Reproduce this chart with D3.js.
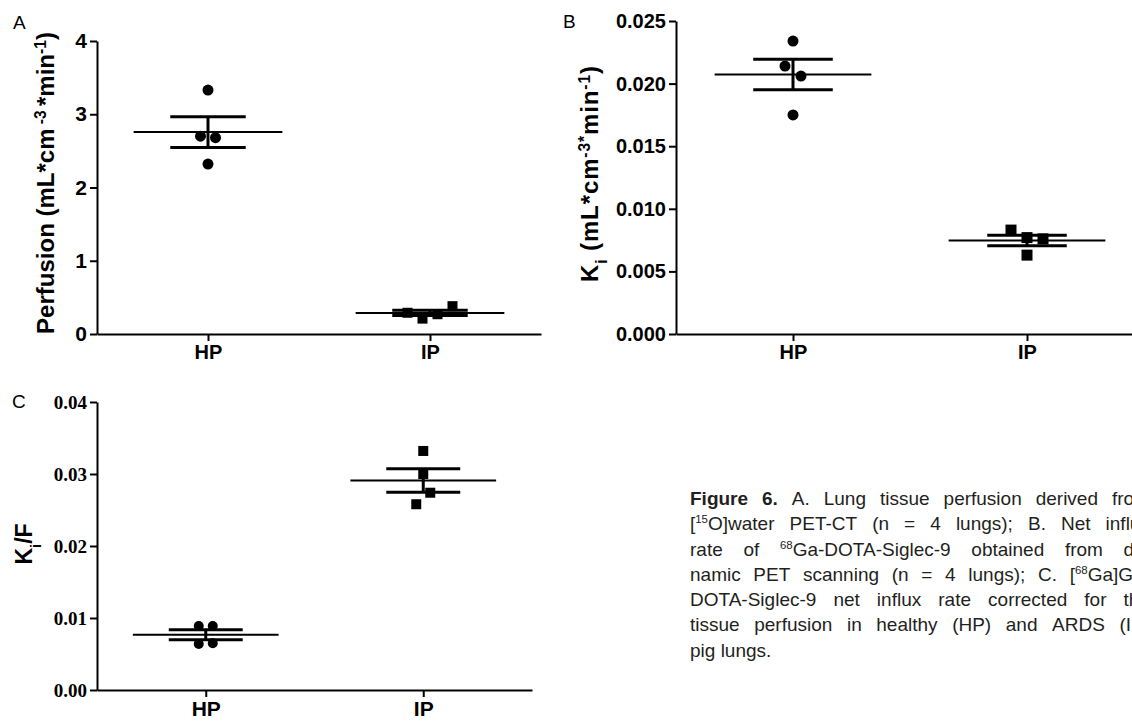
<!DOCTYPE html>
<html>
<head>
<meta charset="utf-8">
<script src="https://cdn.jsdelivr.net/npm/d3@7"></script>
<style>
	body { margin: 0; background: #fff; overflow: hidden; }
	#fig { position: absolute; left: 0; top: 0; }
	#caption {
		position: absolute; left: 690px; top: 486px;
		font-family: "Liberation Sans", Arial, sans-serif; font-size: 19px;
		color: #231f20; line-height: 25.3px;
	}
	.cap-line { display: flex; justify-content: space-between; width: 460px; white-space: nowrap; }
	.cap-line sup, .cap-last sup { font-size: 0.6em; vertical-align: super; line-height: 0; }
	.cap-last { white-space: nowrap; }
</style>
</head>
<body>
<svg id="fig" width="1132" height="722"></svg>
<div id="caption"></div>
<script>
// categories
const groups = ["HP", "IP"];

// A: perfusion (mL*cm-3*min-1)
const perfusionHP = [3.33, 2.70, 2.68, 2.32];
const perfusionIP = [0.29, 0.21, 0.27, 0.38];
const perfusionTicks = [0, 1, 2, 3, 4];

// B: Ki
const kiHP = [0.0234, 0.0214, 0.0206, 0.0175];
const kiIP = [0.0083, 0.0077, 0.0063, 0.0076];
const kiTicks = [0, 0.005, 0.010, 0.015, 0.020, 0.025];

// C: Ki/F
const kiFHP = [0.0089, 0.0064, 0.0089, 0.0065];
const kiFIP = [0.0332, 0.0300, 0.0258, 0.0274];
const kiFTicks = [0, 0.01, 0.02, 0.03, 0.04];

// caption, one entry per printed line (^ marks a superscript run)
const captionLines = [
	["**Figure", "**6.", "A.", "Lung", "tissue", "perfusion", "derived", "from"],
	["[^15^O]water", "PET-CT", "(n", "=", "4", "lungs);", "B.", "Net", "influx"],
	["rate", "of", "^68^Ga-DOTA-Siglec-9", "obtained", "from", "dy-"],
	["namic", "PET", "scanning", "(n", "=", "4", "lungs);", "C.", "[^68^Ga]Ga-"],
	["DOTA-Siglec-9", "net", "influx", "rate", "corrected", "for", "the"],
	["tissue", "perfusion", "in", "healthy", "(HP)", "and", "ARDS", "(IP)"],
	["pig lungs."]
];

const svg = d3.select('#fig');
const sans = '"Liberation Sans", Arial, sans-serif';
const serif = '"Liberation Serif", "Times New Roman", serif';

// spread overlapping points sideways, like the prism scatter
function spread(values, y, gap, thr) {
	const order = values.map((v, i) => i).sort((a, b) => values[b] - values[a]);
	const clusters = [];
	order.forEach(i => {
		const last = clusters[clusters.length - 1];
		if (last && Math.abs(y(values[last[last.length - 1]]) - y(values[i])) < thr) last.push(i);
		else clusters.push([i]);
	});
	const off = values.map(() => 0);
	clusters.forEach(c => {
		c.sort((a, b) => a - b);
		c.forEach((i, k) => off[i] = (k - (c.length - 1) / 2) * gap);
	});
	return off;
}

function addRich(sel, parts) {
	parts.forEach(p => {
		const t = sel.append('tspan').text(p.t);
		if (p.sup) t.attr('baseline-shift', 'super').attr('font-size', '65%');
		if (p.sub) t.attr('baseline-shift', 'sub').attr('font-size', '65%');
	});
}

function drawPanel(o) {
	const g = svg.append('g');
	const x = d3.scalePoint().domain(groups).range([o.left, o.right]).padding(0.5);
	const y = d3.scaleLinear().domain([o.ticks[0], o.ticks[o.ticks.length - 1]]).range([o.bottom, o.top]);
	const step = x.step();

	// y axis
	const ya = g.append('g')
		.attr('transform', 'translate(' + o.left + ',0)')
		.call(d3.axisLeft(y).tickValues(o.ticks).tickFormat(o.format)
			.tickSize(7).tickPadding(3).tickSizeOuter(0));
	ya.selectAll('text')
		.attr('font-family', o.tickFont).attr('font-size', o.tickSize)
		.attr('font-weight', 'bold').attr('fill', '#000');

	// x axis
	const xa = g.append('g')
		.attr('transform', 'translate(0,' + o.bottom + ')')
		.call(d3.axisBottom(x).tickSize(7).tickPadding(4).tickSizeOuter(0));
	xa.selectAll('text')
		.attr('font-family', sans).attr('font-size', o.catSize)
		.attr('font-weight', 'bold').attr('fill', '#000');

	[ya, xa].forEach(a => {
		a.select('.domain').attr('stroke', '#000').attr('stroke-width', 2);
		a.selectAll('.tick line').attr('stroke', '#000').attr('stroke-width', 2);
	});

	// y title
	const title = g.append('text')
		.attr('transform', 'translate(' + o.titleX + ',' + o.titleY + ') rotate(-90)')
		.attr('text-anchor', 'middle').attr('dy', '0.35em')
		.attr('font-family', sans).attr('font-size', o.titleSize).attr('font-weight', 'bold');
	addRich(title, o.title);
	if (o.titleLen) title.attr('textLength', o.titleLen).attr('lengthAdjust', 'spacing');

	// panel letter
	g.append('text').attr('x', o.letterX).attr('y', o.letterY)
		.attr('font-family', sans).attr('font-size', 19).text(o.letter);

	// points + mean and SEM
	o.series.forEach((vals, si) => {
		const cx = x(groups[si]);
		const mean = d3.mean(vals);
		const sem = d3.deviation(vals) / Math.sqrt(vals.length);
		const bars = g.append('g').attr('stroke', '#000').attr('stroke-linecap', 'butt');
		bars.append('line').attr('x1', cx - step * 0.335).attr('x2', cx + step * 0.335)
			.attr('y1', y(mean)).attr('y2', y(mean)).attr('stroke-width', 2);
		[mean + sem, mean - sem].forEach(v => {
			bars.append('line').attr('x1', cx - step * 0.17).attr('x2', cx + step * 0.17)
				.attr('y1', y(v)).attr('y2', y(v)).attr('stroke-width', 3);
		});
		bars.append('line').attr('x1', cx).attr('x2', cx)
			.attr('y1', y(mean + sem)).attr('y2', y(mean - sem)).attr('stroke-width', 3);

		const off = spread(vals, y, o.gap, 12);
		if (si === 0) {
			g.selectAll(null).data(vals).enter().append('circle')
				.attr('cx', (d, i) => cx + off[i]).attr('cy', d => y(d))
				.attr('r', o.r).attr('fill', '#000');
		} else {
			g.selectAll(null).data(vals).enter().append('rect')
				.attr('x', (d, i) => cx + off[i] - o.sq / 2).attr('y', d => y(d) - o.sq / 2)
				.attr('width', o.sq).attr('height', o.sq).attr('fill', '#000');
		}
	});
}

drawPanel({
	letter: 'A', letterX: 13, letterY: 29,
	left: 97, right: 541, top: 41, bottom: 334,
	ticks: perfusionTicks, format: d3.format('d'),
	tickFont: sans, tickSize: 21, catSize: 20,
	title: [{t: 'Perfusion (mL*cm'}, {t: ' -3 ', sup: true}, {t: '*min'}, {t: '-1', sup: true}, {t: ')'}],
	titleX: 46, titleY: 183, titleSize: 24,
	series: [perfusionHP, perfusionIP], gap: 15, r: 5.5, sq: 10
});

drawPanel({
	letter: 'B', letterX: 563, letterY: 28,
	left: 676, right: 1144, top: 21, bottom: 334,
	ticks: kiTicks, format: d3.format('.3f'),
	tickFont: sans, tickSize: 20, catSize: 20,
	title: [{t: 'K'}, {t: 'i', sub: true}, {t: ' (mL*cm'}, {t: '-3*', sup: true}, {t: 'min'}, {t: '-1', sup: true}, {t: ')'}],
	titleX: 590, titleY: 174, titleSize: 24, titleLen: 216,
	series: [kiHP, kiIP], gap: 16, r: 5.5, sq: 11
});

drawPanel({
	letter: 'C', letterX: 12, letterY: 408,
	left: 97, right: 532, top: 402, bottom: 690,
	ticks: kiFTicks, format: d3.format('.2f'),
	tickFont: serif, tickSize: 19, catSize: 21,
	title: [{t: 'K'}, {t: 'i', sub: true}, {t: '/F'}],
	titleX: 24, titleY: 544, titleSize: 23,
	series: [kiFHP, kiFIP], gap: 14, r: 5, sq: 10
});

// caption
function wordHtml(w) {
	let bold = false;
	if (w.startsWith('**')) { bold = true; w = w.slice(2); }
	const parts = w.split('^');
	let html = parts.map((p, i) => i % 2 ? '<sup>' + p + '</sup>' : p).join('');
	return bold ? '<b>' + html + '</b>' : html;
}
const cap = d3.select('#caption');
captionLines.forEach((line, i) => {
	const last = i === captionLines.length - 1;
	const div = cap.append('div').attr('class', last ? 'cap-last' : 'cap-line');
	if (last) div.html(line.map(wordHtml).join(' '));
	else line.forEach(w => div.append('span').html(wordHtml(w)));
});
</script>
</body>
</html>
